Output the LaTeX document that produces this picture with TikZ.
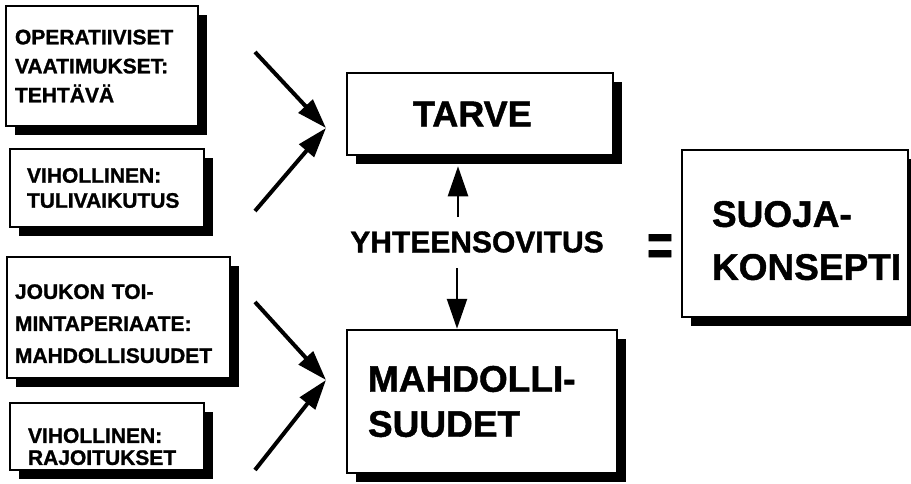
\documentclass[tikz,border=0pt]{standalone}
\usepackage{fontspec}
\setmainfont[BoldFeatures={FakeBold=1.2}]{Liberation Sans}
\usetikzlibrary{shapes, arrows.meta, shadows}
\tikzstyle{sbox} = [rectangle, draw, line width=2.5pt, fill=white, align=left, drop shadow={shadow xshift=9pt, shadow yshift=-9pt, opacity=1, fill=black}]
\tikzstyle{stext} = [font=\fontsize{21}{29}\selectfont\bfseries]
\tikzstyle{line} = [draw, line width=4pt, -{Triangle[length=30pt, width=19pt]}]
\tikzstyle{vline} = [draw, line width=2.5pt, -{Triangle[length=30pt, width=20pt]}]

\begin{document}
\begin{tikzpicture}[x=1pt, y=-1pt]
    \useasboundingbox[fill=white] (0,0) rectangle (911,483);

    % input boxes on the left
    \node[sbox, stext, text width=174pt, inner xsep=9pt, minimum height=120pt] (oper) at (102,66) {OPERATIIVISET\\VAATIMUKSET:\\TEHTÄVÄ};
    \node[sbox, font=\fontsize{21}{25}\selectfont\bfseries, text width=160pt, inner xsep=17pt, minimum height=78pt] (tuli) at (107,188) {VIHOLLINEN:\\TULIVAIKUTUS};
    \node[sbox, font=\fontsize{21}{32}\selectfont\bfseries, text width=207pt, inner xsep=8pt, inner ysep=0pt, minimum height=121pt] (joukko) at (118.5,317.5) {\rule{0pt}{27pt}JOUKON TOI-\\MINTAPERIAATE:\\MAHDOLLISUUDET};
    \node[sbox, font=\fontsize{21}{22}\selectfont\bfseries, text width=158pt, inner xsep=18pt, inner ysep=0pt, minimum height=67pt] (rajoit) at (107,436.5) {\rule{0pt}{35pt}VIHOLLINEN:\\RAJOITUKSET};

    % middle and result
    \node[sbox, font=\fontsize{36}{40}\selectfont\bfseries, text width=134pt, inner xsep=66pt, minimum height=82pt] (tarve) at (480,114) {TARVE};
    \node[sbox, font=\fontsize{37}{45}\selectfont\bfseries, text width=228pt, inner xsep=21pt, minimum height=143pt] (mahd) at (482,401.5) {MAHDOLLI-\\SUUDET};
    \node[font=\fontsize{30}{30}\selectfont\bfseries] (yht) at (477,242) {YHTEENSOVITUS};
    \node[font=\fontsize{40}{40}\selectfont\bfseries] (eq) at (660,250) {\scalebox{1.1}[1.5]{=}};
    \node[sbox, font=\fontsize{37}{53}\selectfont\bfseries, text width=166pt, inner xsep=30pt, minimum height=167pt] (suoja) at (795,233.5) {\rule{0pt}{40pt}SUOJA-\\KONSEPTI};

    \coordinate (a1) at (255,52);
    \coordinate (a2) at (255,211);
    \coordinate (a3) at (255,302);
    \coordinate (a4) at (255,470);
    \coordinate (tin) at (326,128);
    \coordinate (min) at (326,380);

    \path[line] (a1) -- (tin);
    \path[line] (a2) -- (tin);
    \path[line] (a3) -- (min);
    \path[line] (a4) -- (min);

    \path[vline] ([xshift=-19pt, yshift=25pt]yht.center) -- ([xshift=-22pt, yshift=-10pt]tarve.south);
    \path[vline] ([xshift=-20pt, yshift=-26pt]yht.center) -- ([xshift=-25pt]mahd.north);
\end{tikzpicture}
\end{document}
